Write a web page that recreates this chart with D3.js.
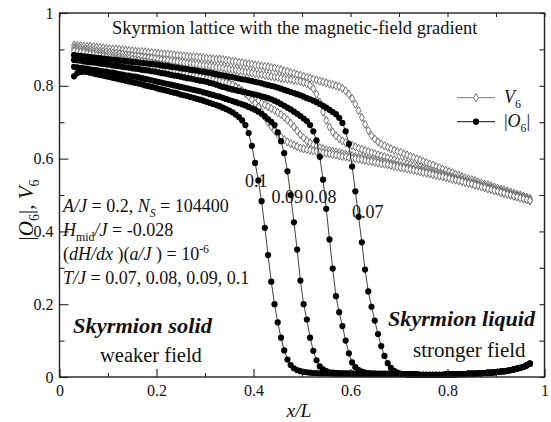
<!DOCTYPE html>
<html>
<head>
<meta charset="utf-8">
<script src="https://cdn.jsdelivr.net/npm/d3@7"></script>
<style>
  body { margin: 0; background: #fff; }
  svg { display: block; font-family: "Liberation Serif", serif; }
</style>
</head>
<body>
<svg id="chart" width="551" height="422"></svg>
<script>
// temperatures T/J, one curve pair per temperature
const temps = ["0.07", "0.08", "0.09", "0.1"];

// bins of x/L: first bin centre 0.03, 1/150 wide, 142 bins (0.03 .. 0.97)
const binStart = 0.03, binWidth = 1 / 150;

// V6 (open markers)
const v6_007 = [
  .912,.911,.910,.909,.908,.908,.907,.906,.905,.904,
  .903,.902,.901,.901,.900,.899,.898,.897,.896,.895,
  .894,.894,.893,.892,.891,.890,.889,.888,.887,.887,
  .886,.885,.884,.883,.882,.881,.880,.880,.879,.878,
  .877,.876,.875,.874,.873,.873,.872,.870,.869,.867,
  .866,.864,.863,.862,.860,.859,.857,.856,.854,.853,
  .852,.850,.849,.846,.844,.841,.839,.836,.834,.831,
  .829,.826,.823,.821,.818,.816,.813,.811,.808,.805,
  .803,.800,.798,.793,.786,.777,.765,.750,.732,.713,
  .694,.677,.663,.654,.646,.640,.635,.631,.627,.623,
  .620,.617,.613,.610,.606,.603,.599,.596,.592,.589,
  .585,.582,.578,.575,.571,.568,.564,.561,.557,.554,
  .550,.547,.544,.542,.539,.536,.533,.530,.528,.525,
  .522,.519,.516,.514,.511,.508,.505,.502,.500,.497,
  .494,.491];
const v6_008 = [
  .905,.904,.903,.901,.900,.899,.898,.896,.895,.894,
  .893,.892,.890,.889,.888,.887,.885,.884,.883,.882,
  .881,.879,.878,.877,.876,.874,.873,.872,.871,.870,
  .868,.867,.866,.865,.863,.862,.861,.860,.859,.857,
  .856,.855,.854,.852,.851,.850,.849,.847,.846,.844,
  .843,.841,.840,.838,.837,.835,.834,.832,.831,.829,
  .828,.826,.824,.823,.821,.820,.818,.817,.815,.814,
  .812,.809,.806,.801,.792,.777,.755,.728,.705,.687,
  .673,.663,.655,.649,.644,.640,.636,.632,.628,.625,
  .622,.619,.616,.613,.610,.607,.605,.602,.599,.597,
  .594,.591,.589,.586,.584,.581,.578,.576,.573,.571,
  .568,.565,.563,.560,.558,.555,.552,.550,.547,.545,
  .542,.539,.537,.534,.532,.529,.526,.524,.521,.519,
  .516,.513,.511,.508,.506,.503,.500,.498,.495,.493,
  .490,.487];
const v6_009 = [
  .900,.899,.897,.896,.894,.893,.891,.890,.888,.887,
  .885,.884,.882,.881,.879,.878,.876,.875,.873,.871,
  .870,.868,.866,.865,.863,.861,.859,.858,.856,.854,
  .852,.850,.848,.846,.844,.842,.840,.838,.836,.834,
  .831,.829,.826,.824,.821,.818,.815,.811,.807,.802,
  .797,.792,.786,.781,.775,.770,.764,.759,.753,.748,
  .743,.738,.733,.727,.721,.714,.706,.697,.687,.676,
  .666,.657,.649,.643,.638,.634,.630,.627,.624,.622,
  .620,.618,.616,.614,.612,.610,.608,.606,.604,.603,
  .601,.599,.597,.596,.594,.592,.590,.588,.586,.584,
  .582,.580,.578,.576,.574,.572,.570,.568,.566,.564,
  .562,.560,.557,.555,.553,.551,.548,.546,.544,.541,
  .539,.536,.534,.531,.529,.526,.524,.521,.519,.516,
  .513,.511,.508,.505,.503,.500,.497,.495,.492,.489,
  .487,.484];
const v6_010 = [
  .895,.894,.892,.891,.889,.887,.886,.884,.882,.881,
  .879,.877,.876,.874,.872,.871,.869,.867,.865,.864,
  .862,.860,.858,.856,.854,.853,.851,.849,.847,.845,
  .843,.841,.839,.837,.835,.833,.831,.829,.827,.825,
  .823,.821,.819,.817,.815,.813,.811,.809,.806,.802,
  .797,.792,.786,.779,.771,.762,.752,.741,.728,.714,
  .700,.688,.677,.667,.659,.652,.646,.641,.637,.633,
  .629,.627,.625,.623,.621,.620,.618,.616,.615,.613,
  .611,.610,.608,.606,.605,.603,.601,.600,.598,.597,
  .595,.593,.592,.590,.588,.586,.585,.583,.581,.579,
  .577,.575,.574,.572,.570,.568,.566,.564,.562,.560,
  .558,.556,.554,.552,.550,.548,.546,.543,.541,.539,
  .537,.534,.532,.530,.527,.525,.522,.520,.517,.515,
  .512,.510,.507,.505,.502,.500,.497,.495,.492,.490,
  .487,.485];

// |O6| (filled markers)
const o6_007 = [
  .884,.883,.882,.881,.880,.879,.878,.877,.876,.875,
  .874,.873,.872,.871,.870,.869,.868,.867,.866,.865,
  .864,.863,.862,.861,.860,.859,.858,.856,.855,.854,
  .852,.851,.850,.848,.847,.846,.844,.843,.842,.840,
  .839,.837,.836,.834,.832,.830,.829,.827,.825,.824,
  .822,.820,.818,.817,.815,.813,.811,.809,.807,.804,
  .802,.800,.798,.795,.792,.789,.786,.783,.780,.777,
  .774,.770,.766,.763,.759,.755,.750,.745,.740,.734,
  .728,.722,.712,.698,.675,.640,.578,.510,.440,.370,
  .295,.235,.193,.155,.118,.085,.058,.038,.025,.017,
  .012,.009,.008,.008,.007,.007,.007,.006,.006,.006,
  .006,.006,.006,.006,.006,.007,.007,.007,.007,.008,
  .008,.008,.009,.009,.009,.010,.010,.011,.012,.012,
  .013,.014,.015,.016,.017,.019,.021,.023,.025,.028,
  .032,.037];
const o6_008 = [
  .871,.870,.869,.867,.866,.865,.864,.863,.861,.860,
  .859,.858,.856,.855,.854,.852,.851,.850,.848,.847,
  .846,.844,.843,.842,.840,.839,.837,.835,.834,.832,
  .830,.828,.827,.825,.823,.821,.820,.818,.816,.814,
  .813,.811,.808,.806,.803,.800,.797,.795,.792,.790,
  .788,.786,.784,.782,.780,.778,.776,.774,.771,.769,
  .766,.763,.759,.755,.750,.745,.740,.735,.729,.723,
  .717,.710,.703,.692,.675,.650,.605,.542,.462,.378,
  .298,.222,.178,.140,.100,.065,.040,.027,.019,.015,
  .012,.011,.010,.010,.009,.009,.009,.009,.008,.008,
  .008,.008,.008,.007,.007,.007,.007,.006,.006,.006,
  .006,.006,.006,.006,.006,.007,.007,.007,.007,.008,
  .008,.008,.009,.009,.009,.010,.010,.011,.012,.012,
  .013,.014,.015,.016,.017,.019,.021,.023,.025,.028,
  .032,.037];
const o6_009 = [
  .852,.851,.849,.848,.847,.845,.844,.843,.841,.840,
  .839,.837,.836,.834,.832,.831,.829,.828,.826,.825,
  .823,.821,.819,.817,.815,.813,.811,.809,.807,.805,
  .803,.801,.799,.797,.795,.793,.791,.789,.787,.785,
  .782,.780,.777,.775,.772,.770,.767,.764,.761,.758,
  .755,.752,.749,.746,.742,.738,.734,.729,.723,.716,
  .708,.701,.692,.672,.648,.615,.565,.500,.425,.350,
  .265,.200,.158,.108,.072,.046,.029,.021,.016,.013,
  .012,.011,.011,.010,.010,.010,.009,.009,.009,.009,
  .009,.009,.008,.008,.008,.008,.008,.008,.008,.008,
  .008,.008,.008,.007,.007,.007,.007,.006,.006,.006,
  .006,.006,.006,.006,.006,.007,.007,.007,.007,.008,
  .008,.008,.009,.009,.009,.010,.010,.011,.012,.012,
  .013,.014,.015,.016,.017,.019,.021,.023,.025,.028,
  .032,.037];
const o6_010 = [
  .826,.835,.838,.839,.838,.836,.834,.832,.830,.828,
  .826,.824,.822,.820,.818,.816,.814,.812,.810,.808,
  .806,.804,.801,.799,.797,.795,.792,.790,.788,.786,
  .783,.781,.779,.776,.774,.772,.769,.767,.764,.762,
  .759,.756,.753,.750,.747,.744,.740,.736,.732,.727,
  .721,.714,.705,.692,.670,.635,.588,.540,.483,.410,
  .335,.262,.200,.150,.108,.073,.048,.033,.024,.019,
  .016,.014,.013,.012,.011,.011,.010,.010,.010,.010,
  .009,.009,.009,.009,.009,.009,.009,.008,.008,.008,
  .008,.008,.008,.008,.008,.008,.008,.008,.008,.008,
  .008,.008,.008,.007,.007,.007,.007,.006,.006,.006,
  .006,.006,.006,.006,.006,.007,.007,.007,.007,.008,
  .008,.008,.009,.009,.009,.010,.010,.011,.012,.012,
  .013,.014,.015,.016,.017,.019,.021,.023,.025,.028,
  .032,.037];

const xMajor = [0, 0.2, 0.4, 0.6, 0.8, 1];
const xMinor = [0.1, 0.3, 0.5, 0.7, 0.9];
const yMajor = [0, 0.2, 0.4, 0.6, 0.8, 1];
const yMinor = [0.1, 0.3, 0.5, 0.7, 0.9];

const v6Series = [v6_007, v6_008, v6_009, v6_010];
const o6Series = [o6_007, o6_008, o6_009, o6_010];

const FONT = "Liberation Serif, serif";
const svg = d3.select("#chart");
const x = d3.scaleLinear().domain([0, 1]).range([59.5, 544.5]);
const y = d3.scaleLinear().domain([0, 1]).range([377, 13]);
const binX = i => binStart + i * binWidth;

const line = d3.line().x((d, i) => x(binX(i))).y(d => y(d));
const diamond = d3.symbol(d3.symbolDiamond, 20);

// V6 curves first
v6Series.forEach(vals => {
    let g = svg.append("g");
    g.append("path").attr("d", line(vals))
        .attr("fill", "none").attr("stroke", "#777").attr("stroke-width", 0.8);
    g.selectAll("path.m").data(vals).join("path").attr("class", "m")
        .attr("d", diamond)
        .attr("transform", (d, i) => `translate(${x(binX(i))},${y(d)})`)
        .attr("fill", "#fff").attr("stroke", "#666").attr("stroke-width", 0.9);
});

// |O6| curves on top
o6Series.forEach(vals => {
    let g = svg.append("g");
    g.append("path").attr("d", line(vals))
        .attr("fill", "none").attr("stroke", "#111").attr("stroke-width", 0.8);
    g.selectAll("circle").data(vals).join("circle")
        .attr("cx", (d, i) => x(binX(i)))
        .attr("cy", d => y(d))
        .attr("r", 3.1)
        .attr("fill", "#000");
});

// axes
const fmt = d => d === 0 ? "0" : d === 1 ? "1" : d3.format(".1f")(d);
function styleAxis(g) {
    g.attr("font-family", FONT);
    g.select(".domain").remove();
    g.selectAll(".tick line").attr("stroke", "#222").attr("stroke-width", 1.1);
    g.selectAll(".tick text").attr("font-family", FONT).attr("font-size", 16).attr("fill", "#111");
}
svg.append("g").attr("transform", `translate(0,${y(0)})`)
    .call(d3.axisBottom(x).tickValues(xMajor).tickSize(-8).tickPadding(8).tickFormat(fmt)).call(styleAxis);
svg.append("g").attr("transform", `translate(0,${y(0)})`)
    .call(d3.axisBottom(x).tickValues(xMinor).tickSize(-4).tickFormat("")).call(styleAxis);
svg.append("g").attr("transform", `translate(0,${y(1)})`)
    .call(d3.axisTop(x).tickValues(xMajor.concat(xMinor)).tickSize(-4).tickFormat("")).call(styleAxis);
svg.append("g").attr("transform", `translate(${x(0)},0)`)
    .call(d3.axisLeft(y).tickValues(yMajor).tickSize(-9).tickPadding(6).tickFormat(fmt)).call(styleAxis);
svg.append("g").attr("transform", `translate(${x(0)},0)`)
    .call(d3.axisLeft(y).tickValues(yMinor).tickSize(-5).tickFormat("")).call(styleAxis);
svg.append("g").attr("transform", `translate(${x(1)},0)`)
    .call(d3.axisRight(y).tickValues(yMajor.concat(yMinor)).tickSize(-5).tickFormat("")).call(styleAxis);

svg.append("rect")
    .attr("x", x(0)).attr("y", y(1))
    .attr("width", x(1) - x(0)).attr("height", y(0) - y(1))
    .attr("fill", "none").attr("stroke", "#222").attr("stroke-width", 1.4);

// text helper: parts = [[text, {italic, sub, sup}], ...]
function rich(parent, px, py, size, parts, anchor) {
    let t = parent.append("text").attr("x", px).attr("y", py)
        .attr("font-family", FONT).attr("font-size", size).attr("fill", "#111")
        .attr("text-anchor", anchor || "start");
    let shift = 0;
    parts.forEach(([s, o]) => {
        o = o || {};
        let want = o.sub ? size * 0.28 : o.sup ? -size * 0.38 : 0;
        let ts = t.append("tspan").text(s).attr("dy", want - shift);
        shift = want;
        if (o.italic) ts.attr("font-style", "italic");
        if (o.sub || o.sup) ts.attr("font-size", size * 0.66);
    });
    return t;
}

// title
rich(svg, 112, 34, 18.5, [["Skyrmion lattice with the magnetic-field gradient"]]);

// axis titles
rich(svg, 299, 417, 19.5, [["x/L", {italic: true}]], "middle");
rich(svg, 0, 0, 21, [["|"], ["O", {italic: true}], ["6", {sub: true}], ["|, "], ["V", {italic: true}], ["6", {sub: true}]], "middle")
    .attr("transform", "translate(33,210) rotate(-90)");

// legend
const legend = [
    {y: 97.7, label: [["V", {italic: true}], ["6", {sub: true}]], open: true},
    {y: 121.7, label: [["|"], ["O", {italic: true}], ["6", {sub: true}], ["|"]], open: false}
];
legend.forEach(l => {
    svg.append("line").attr("x1", 457).attr("x2", 495).attr("y1", l.y).attr("y2", l.y)
        .attr("stroke", l.open ? "#777" : "#111").attr("stroke-width", 1);
    if (l.open)
        svg.append("path").attr("d", diamond).attr("transform", `translate(476,${l.y})`)
            .attr("fill", "#fff").attr("stroke", "#666").attr("stroke-width", 0.9);
    else
        svg.append("circle").attr("cx", 476).attr("cy", l.y).attr("r", 3.1).attr("fill", "#000");
    rich(svg, 504, l.y + 5.5, 18, l.label);
});

// parameters
rich(svg, 63, 212, 18, [["A/J", {italic: true}], [" = 0.2, "], ["N", {italic: true}], ["S", {sub: true, italic: true}], [" = 104400"]]);
rich(svg, 63, 236, 18, [["H", {italic: true}], ["mid", {sub: true}], ["/J", {italic: true}], [" = -0.028"]]);
rich(svg, 63, 260, 18, [["("], ["dH/dx", {italic: true}], [" )("], ["a/J", {italic: true}], [" ) = 10"], ["-6", {sup: true}]]);
rich(svg, 63, 284, 18, [["T/J", {italic: true}], [" = 0.07, 0.08, 0.09, 0.1"]]);

// curve labels, placed in data coordinates
const curveLabelPos = [[0.3825, 0.522], [0.437, 0.478], [0.506, 0.478], [0.603, 0.437]];
temps.slice().reverse().forEach((t, i) => {
    rich(svg, x(curveLabelPos[i][0]), y(curveLabelPos[i][1]), 18, [[t]]);
});

// phase annotations
rich(svg, 73, 333, 21, [["Skyrmion solid"]])
    .attr("font-style", "italic").attr("font-weight", "bold")
    .attr("textLength", 139).attr("lengthAdjust", "spacingAndGlyphs");
rich(svg, 100, 362, 20.5, [["weaker field"]]);
rich(svg, 388, 326, 21, [["Skyrmion liquid"]])
    .attr("font-style", "italic").attr("font-weight", "bold")
    .attr("textLength", 147).attr("lengthAdjust", "spacingAndGlyphs");
rich(svg, 413, 357, 21, [["stronger field"]]);
</script>
</body>
</html>
